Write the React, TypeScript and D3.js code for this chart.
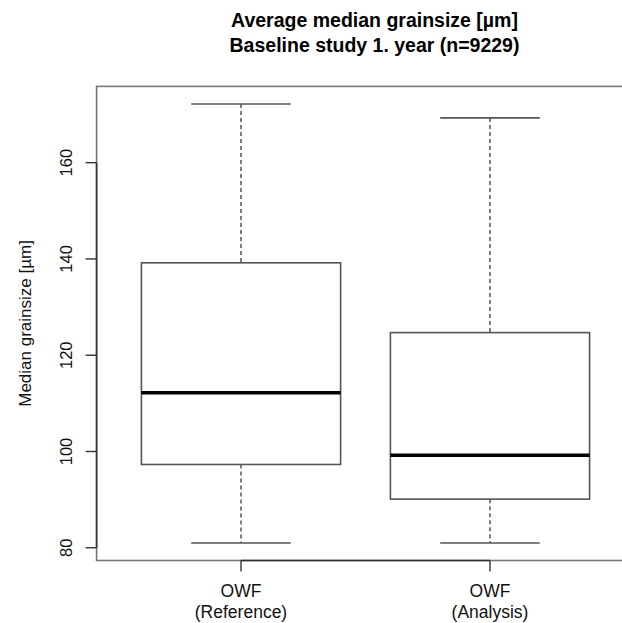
import React from "react";
import * as d3 from "d3";

const categories = ["OWF\n(Reference)", "OWF\n(Analysis)"];
const whiskerLow = [81.0, 81.0];
const q1 = [97.3, 90.1];
const median = [112.2, 99.2];
const q3 = [139.2, 124.7];
const whiskerHigh = [172.2, 169.3];
const yTicks = [80, 100, 120, 140, 160];
const titleLines = ["Average median grainsize [µm]", "Baseline study 1. year (n=9229)"];
const yLabel = "Median grainsize [µm]";

const FONT = "'Liberation Sans', Arial, Helvetica, sans-serif";

export default function App() {
  const dMin = d3.min(whiskerLow) as number;
  const dMax = d3.max(whiskerHigh) as number;
  const ext = (dMax - dMin) * 0.04;
  const n = categories.length;
  const xExt = n * 0.04;
  const plotL = 96.6, plotR = 634.4, plotT = 86.4, plotB = 560.5;
  const x = d3.scaleLinear().domain([0.5 - xExt, n + 0.5 + xExt]).range([plotL, plotR]);
  const y = d3.scaleLinear().domain([dMin - ext, dMax + ext]).range([plotB, plotT]);
  const boxHalf = 0.4;
  const capHalf = 0.2;
  const lineCol = "#555";
  const axisCol = "#333";

  return (
    <svg width={622} height={623} style={{ position: "absolute", left: 0, top: 0, background: "#fff" }}>
      <rect x={0} y={0} width={622} height={623} fill="#fff" />
      {titleLines.map((t, i) => (
        <text key={i} x={374.5} y={27 + i * 25} textAnchor="middle" fontFamily={FONT} fontWeight="bold" fontSize={19.5} fill="#000">
          {t}
        </text>
      ))}
      {categories.map((c, i) => {
        const cx = x(i + 1);
        return (
          <g key={c}>
            <line x1={cx} x2={cx} y1={y(whiskerHigh[i])} y2={y(q3[i])} stroke={lineCol} strokeWidth={1.5} strokeDasharray="4,3" />
            <line x1={cx} x2={cx} y1={y(q1[i])} y2={y(whiskerLow[i])} stroke={lineCol} strokeWidth={1.5} strokeDasharray="4,3" />
            <line x1={x(i + 1 - capHalf)} x2={x(i + 1 + capHalf)} y1={y(whiskerHigh[i])} y2={y(whiskerHigh[i])} stroke={lineCol} strokeWidth={1.6} />
            <line x1={x(i + 1 - capHalf)} x2={x(i + 1 + capHalf)} y1={y(whiskerLow[i])} y2={y(whiskerLow[i])} stroke={lineCol} strokeWidth={1.6} />
            <rect x={x(i + 1 - boxHalf)} y={y(q3[i])} width={x(i + 1 + boxHalf) - x(i + 1 - boxHalf)} height={y(q1[i]) - y(q3[i])} fill="#fff" stroke={lineCol} strokeWidth={1.6} />
            <line x1={x(i + 1 - boxHalf)} x2={x(i + 1 + boxHalf)} y1={y(median[i])} y2={y(median[i])} stroke="#000" strokeWidth={3.5} />
          </g>
        );
      })}
      <rect x={plotL} y={plotT} width={plotR - plotL} height={plotB - plotT} fill="none" stroke="#777" strokeWidth={1.6} />
      {/* y axis */}
      <line x1={plotL} x2={plotL} y1={y(yTicks[0])} y2={y(yTicks[yTicks.length - 1])} stroke={axisCol} strokeWidth={1.6} />
      {yTicks.map((t) => (
        <g key={t}>
          <line x1={plotL - 11} x2={plotL} y1={y(t)} y2={y(t)} stroke={axisCol} strokeWidth={1.4} />
          <text transform={`translate(72,${y(t)}) rotate(-90)`} textAnchor="middle" fontFamily={FONT} fontSize={16.5} fill="#111">
            {t}
          </text>
        </g>
      ))}
      <text transform={`translate(31,${(plotT + plotB) / 2}) rotate(-90)`} textAnchor="middle" fontFamily={FONT} fontSize={17} fill="#111">
        {yLabel}
      </text>
      {/* x axis */}
      <line x1={x(1)} x2={x(n)} y1={plotB} y2={plotB} stroke={axisCol} strokeWidth={1.6} />
      {categories.map((c, i) => {
        const cx = x(i + 1);
        const parts = c.split("\n");
        return (
          <g key={c}>
            <line x1={cx} x2={cx} y1={plotB} y2={plotB + 11} stroke={axisCol} strokeWidth={1.4} />
            {parts.map((p, j) => (
              <text key={j} x={cx} y={597 + j * 21} textAnchor="middle" fontFamily={FONT} fontSize={17.5} fill="#111">
                {p}
              </text>
            ))}
          </g>
        );
      })}
    </svg>
  );
}
